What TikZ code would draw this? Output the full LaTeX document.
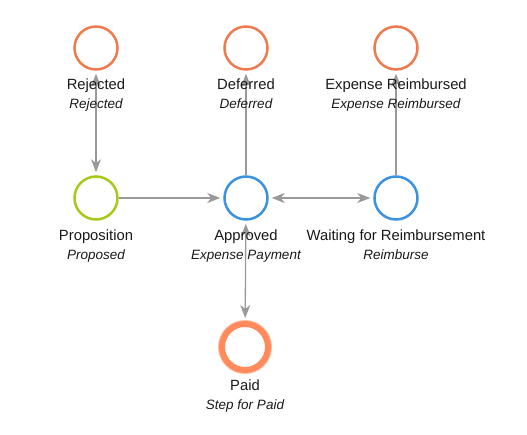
\documentclass[tikz,border=0pt]{standalone}
\usepackage{fontspec}
\setmainfont{Liberation Sans}
\usetikzlibrary{arrows.meta}

\definecolor{endorange}{RGB}{238,122,80}
\definecolor{paidorange}{RGB}{255,138,92}
\definecolor{startgreen}{RGB}{166,201,26}
\definecolor{stepblue}{RGB}{59,146,222}
\definecolor{flowgray}{RGB}{153,153,153}

\tikzset{
  state/.style={circle, draw, line width=2.5pt, minimum size=43pt, inner sep=0pt, fill=white},
  stname/.style={anchor=base, inner sep=0pt, text=black!90, font=\fontsize{14.8}{16}\selectfont},
  stsub/.style={anchor=base, inner sep=0pt, text=black!90, font=\fontsize{13.5}{15}\selectfont\itshape},
  flow/.style={draw=flowgray, line width=1.3pt, shorten >=3pt,
    -{Stealth[length=13pt, width=10pt, inset=4pt]}},
  flowboth/.style={flow, shorten <=3pt,
    {Stealth[length=13pt, width=10pt, inset=4pt]}-{Stealth[length=13pt, width=10pt, inset=4pt]}}
}

\begin{document}
\begin{tikzpicture}[x=1pt, y=-1pt]
\useasboundingbox (0,0) rectangle (527,435);

% states
\node[state, draw=endorange] (rej) at (96,48) {};
\node[state, draw=endorange] (dfr) at (246,48) {};
\node[state, draw=endorange] (exr) at (396,48) {};
\node[state, draw=startgreen] (prop) at (96,198) {};
\node[state, draw=stepblue] (appr) at (246,198) {};
\node[state, draw=stepblue] (wait) at (396,198) {};
\draw[paidorange!55, line width=8pt] (245,347) circle (23pt);
\node[state, draw=paidorange, line width=6pt, minimum size=46pt] (paid) at (245,347) {};

% transitions
\draw[flowboth] (prop) -- (rej);
\draw[flow] (prop) -- (appr);
\draw[flow] (appr) -- (dfr);
\draw[flowboth] (appr) -- (wait);
\draw[flow] (wait) -- (exr);
\draw[flowboth] (appr) -- (paid);

% labels
\node[stname] (rejN) at (96,90) {Rejected};
\node[stsub] (rejS) at (96,109) {Rejected};
\node[stname] (dfrN) at (246,90) {Deferred};
\node[stsub] (dfrS) at (246,109) {Deferred};
\node[stname] (exrN) at (396,90) {Expense Reimbursed};
\node[stsub] (exrS) at (396,109) {Expense Reimbursed};
\node[stname] (propN) at (96,241) {Proposition};
\node[stsub] (propS) at (96,260) {Proposed};
\node[stname] (apprN) at (246,241) {Approved};
\node[stsub] (apprS) at (246,260) {Expense Payment};
\node[stname] (waitN) at (396,241) {Waiting for Reimbursement};
\node[stsub] (waitS) at (396,260) {Reimburse};
\node[stname] (paidN) at (245,390) {Paid};
\node[stsub] (paidS) at (245,409) {Step for Paid};
\end{tikzpicture}
\end{document}
